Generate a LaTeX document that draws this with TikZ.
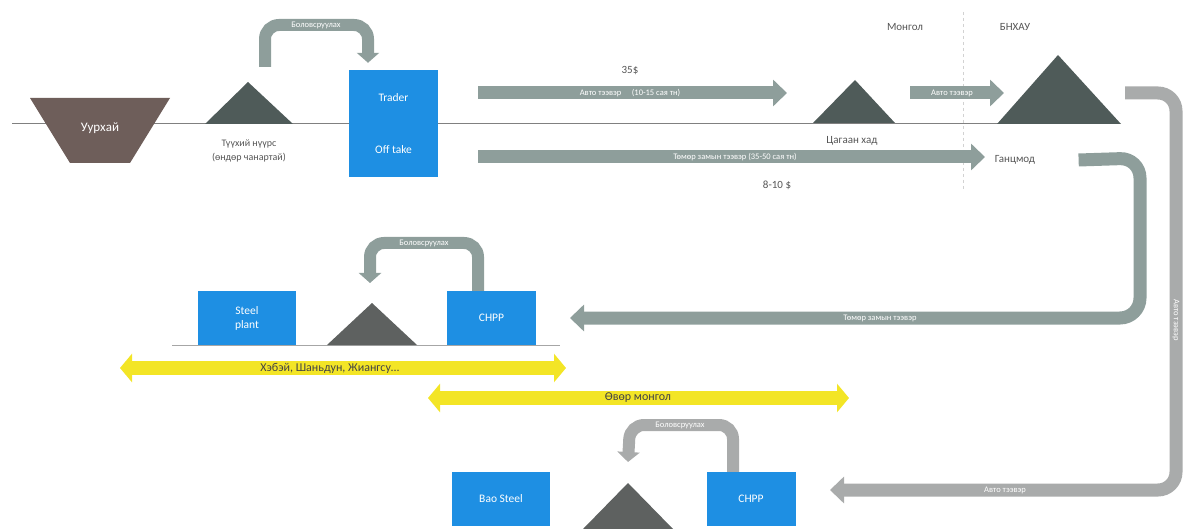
\documentclass[tikz,border=0pt]{standalone}
\usepackage{fontspec}
\setmainfont{Carlito}
\usetikzlibrary{arrows.meta}
\definecolor{boxblue}{HTML}{1E8FE3}
\definecolor{arrgrey}{HTML}{8E9E9B}
\definecolor{arrgreyb}{HTML}{A9ABAB}
\definecolor{trigrey}{HTML}{4F5B59}
\definecolor{trigreyb}{HTML}{5E6160}
\definecolor{minebrown}{HTML}{6E5E5A}
\definecolor{ylw}{HTML}{F3E526}
\definecolor{txtgrey}{HTML}{555555}
\begin{document}
\begin{tikzpicture}[x=1pt,y=-1pt,
  bluebox/.style={fill=boxblue, text=white, minimum width=89pt, inner sep=0pt, font=\fontsize{11.5}{14}\selectfont, align=center},
  fatarrow/.style={draw=arrgrey, line width=13pt, -{Triangle[width=26pt,length=14pt]}},
  loopar/.style={draw=arrgrey, line width=12pt, rounded corners=14pt, -{Triangle[width=22pt,length=10pt]}},
  yarrow/.style={draw=ylw, line width=14pt, {Triangle[width=28pt,length=12pt]}-{Triangle[width=28pt,length=12pt]}},
  inlbl/.style={text=white, font=\fontsize{8.5}{10}\selectfont, inner sep=1pt},
  lbl/.style={text=txtgrey, font=\fontsize{11}{13}\selectfont, align=center},
  ylbl/.style={text=txtgrey!80!black, font=\fontsize{12}{14}\selectfont}
]
\useasboundingbox (0,0) rectangle (1188,529);

% ground line
\draw[gray, line width=1pt] (12,124) -- (1120,124);
% border line Mongolia / China
\draw[gray!35, line width=0.6pt, dashed] (963,12) -- (963,190);

% mine
\fill[minebrown] (30,98) -- (170,98) -- (130,163) -- (70,163) -- cycle;
\node[text=white, font=\fontsize{13}{15}\selectfont] (mine) at (100,128) {Уурхай};

% raw coal stockpile
\fill[trigrey] (205,124) -- (248,82) -- (293,124) -- cycle;
\coordinate (tri1) at (248,82);
\node[lbl, font=\fontsize{10}{14}\selectfont] (rawlbl) at (249,151) {Түүхий нүүрс\\(өндөр чанартай)};

% trader
\node[bluebox, minimum height=107pt] (trader) at (393.5,123.5) {Trader\\[38pt]Off take};

% loop mine stockpile -> trader
\coordinate (l1s) at ([xshift=17pt,yshift=15pt]tri1);
\draw[loopar] (l1s) -- (265,25) -- (368,25) -- ([xshift=-25.5pt,yshift=7pt]trader.north);
\node[inlbl] (l1lbl) at (316,25) {Боловсруулах};

% top route
\coordinate (t1s) at ([xshift=40pt]trader.east |- 0,93);
\coordinate (tsh) at (855,80);
\draw[fatarrow] (t1s) -- (787,93);
\node[inlbl] (t1lbl) at (630,93) {Авто тээвэр \quad (10-15 сая тн)};
\node[lbl] (p35) at (630,71) {35\$};

% Tsagaan khad stockpile
\fill[trigrey] (813,123) -- (tsh) -- (895,123) -- cycle;
\node[lbl] (tsag) at (852,141) {Цагаан хад};

% rail route
\coordinate (t2s) at ([xshift=40pt]trader.east |- 0,157);
\draw[fatarrow] (t2s) -- (985,157);
\node[inlbl] (t2lbl) at (735,157) {Төмөр замын тээвэр (35-50 сая тн)};
\node[lbl] (p810) at (777,185) {8-10 \$};

% short road arrow
\draw[fatarrow] (910,93) -- (1004,93);
\node[inlbl] (t3lbl) at (952,93) {Авто тээвэр};

% China stockpile
\fill[trigrey] (997,124) -- (1058,55) -- (1121,124) -- cycle;
\coordinate (bigtri) at (1058,55);
\node[lbl] (mon) at (905,27) {Монгол};
\node[lbl] (prc) at (1015,27) {БНХАУ};
\node[lbl] (gants) at (1015,160) {Ганцмод};

% rail from Gantsmod to east coast CHPP
\draw[fatarrow, rounded corners=20pt] ([xshift=40pt]gants.east) -- (1140,158) -- (1140,318) -- (570,318);
\node[inlbl] (r1lbl) at (880,318) {Төмөр замын тээвэр};

% road from China stockpile to Inner Mongolia CHPP
\draw[fatarrow, draw=arrgreyb, rounded corners=18pt] (1125,93) -- (1176,93) -- (1176,490) -- (830,490);
\node[inlbl, rotate=-90] (r2lbl) at (1176,320) {Авто тээвэр};
\node[inlbl] (r3lbl) at (1005,490) {Авто тээвэр};

% east coast group
\draw[gray!70, line width=0.8pt] (172,345) -- (560,345);
\node[bluebox, minimum width=98pt, minimum height=54pt] (steel) at (247,318) {Steel\\plant};
\fill[trigreyb] (327,345) -- (372,303) -- (417,345) -- cycle;
\coordinate (tri2) at (372,303);
\node[bluebox, minimum height=54pt] (chpp1) at (491.5,318) {CHPP};
\draw[loopar] ([xshift=-13.5pt]chpp1.north) -- (478,243) -- (370,243) -- ([xshift=-2pt,yshift=20pt]tri2);
\node[inlbl] (l2lbl) at (424,243) {Боловсруулах};

% yellow regions
\draw[yarrow] (120,368) -- (566,368);
\node[ylbl] (reg1) at (330,368) {Хэбэй, Шаньдун, Жиангсу...};
\draw[yarrow] (428,398) -- (849,398);
\node[ylbl] (reg2) at (638,398) {Өвөр монгол};

% Inner Mongolia group
\node[bluebox, minimum width=98pt, minimum height=54pt] (bao) at (501,499) {Bao Steel};
\fill[trigreyb] (583,529) -- (628,483) -- (673,529) -- cycle;
\coordinate (tri3) at (628,483);
\node[bluebox, minimum height=54pt] (chpp2) at (751,499) {CHPP};
\draw[loopar, draw=arrgreyb] ([xshift=-18pt]chpp2.north) -- (733,425) -- (630,425) -- ([yshift=21pt]tri3);
\node[inlbl] (l3lbl) at (680,425) {Боловсруулах};
\end{tikzpicture}
\end{document}
